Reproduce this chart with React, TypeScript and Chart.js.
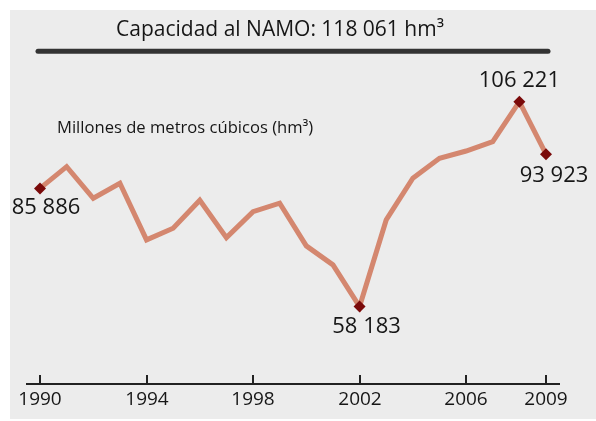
import React, { useEffect, useRef } from "react";
import { Chart, registerables } from "chart.js";

Chart.register(...registerables);

const YEARS = [1990, 1991, 1992, 1993, 1994, 1995, 1996, 1997, 1998, 1999, 2000, 2001, 2002, 2003, 2004, 2005, 2006, 2007, 2008, 2009];
const VOLUMES = [85886, 90985, 83580, 87100, 73810, 76550, 83100, 74350, 80440, 82410, 72400, 67950, 58183, 78500, 88270, 92950, 94660, 96840, 106221, 93923];
const HIGHLIGHT_YEARS = [1990, 2002, 2008, 2009];
const TICK_YEARS = [1990, 1994, 1998, 2002, 2006, 2009];
const CAPACITY = 118061;
const TITLE = "Capacidad al NAMO: 118 061 hm³";
const SUBTITLE = "Millones de metros cúbicos (hm³)";

const FONT = "'Open Sans', 'Noto Sans', sans-serif";

function fmt(v: number): string {
  const s = String(Math.round(v));
  return s.replace(/\B(?=(\d{3})+(?!\d))/g, " ");
}

const decorPlugin = {
  id: "decor",
  beforeDraw(chart: any) {
    const ctx = chart.ctx;
    ctx.save();
    ctx.fillStyle = "#ececec";
    ctx.fillRect(10, 10, chart.width - 10, chart.height - 12);
    ctx.restore();
  },
  afterDatasetsDraw(chart: any) {
    const ctx = chart.ctx;
    const xs = chart.scales.x;
    const ys = chart.scales.y;
    const area = chart.chartArea;
    ctx.save();
    // Title
    ctx.fillStyle = "#161616";
    ctx.textAlign = "center";
    ctx.textBaseline = "middle";
    ctx.font = `21px ${FONT}`;
    ctx.fillText(TITLE, 280, 30);
    // capacity line
    const cy = ys.getPixelForValue(CAPACITY);
    ctx.strokeStyle = "#333333";
    ctx.lineWidth = 5;
    ctx.lineCap = "round";
    ctx.beginPath();
    ctx.moveTo(xs.getPixelForValue(YEARS[0]) - 2, cy);
    ctx.lineTo(xs.getPixelForValue(YEARS[YEARS.length - 1]) + 2, cy);
    ctx.stroke();
    // subtitle
    ctx.textAlign = "left";
    ctx.font = `16.6px ${FONT}`;
    ctx.fillText(SUBTITLE, 57, 128);
    // x axis
    const ay = area.bottom;
    ctx.strokeStyle = "#222222";
    ctx.lineWidth = 2;
    ctx.lineCap = "butt";
    ctx.beginPath();
    ctx.moveTo(26, ay);
    ctx.lineTo(560, ay);
    ctx.stroke();
    ctx.textAlign = "center";
    ctx.font = `19px ${FONT}`;
    TICK_YEARS.forEach((yr) => {
      const px = Math.round(xs.getPixelForValue(yr));
      ctx.beginPath();
      ctx.moveTo(px, ay);
      ctx.lineTo(px, ay - 9);
      ctx.stroke();
      ctx.fillText(String(yr), px, ay + 16);
    });
    // value labels
    ctx.font = `22px ${FONT}`;
    const place: Record<number, [number, number]> = {
      1990: [6, 19],
      2002: [7, 20],
      2008: [0, -21],
      2009: [8, 22],
    };
    HIGHLIGHT_YEARS.forEach((yr) => {
      const i = YEARS.indexOf(yr);
      const px = xs.getPixelForValue(yr);
      const py = ys.getPixelForValue(VOLUMES[i]);
      const [dx, dy] = place[yr] || [0, 20];
      ctx.fillText(fmt(VOLUMES[i]), px + dx, py + dy);
    });
    ctx.restore();
  },
};

export default function App() {
  const ref = useRef<HTMLCanvasElement | null>(null);
  useEffect(() => {
    document.body.style.margin = "0";
    if (!ref.current) return;
    const radii = YEARS.map((y) => (HIGHLIGHT_YEARS.includes(y) ? 6 : 0));
    const chart = new Chart(ref.current, {
      type: "line",
      data: {
        datasets: [
          {
            data: YEARS.map((y, i) => ({ x: y, y: VOLUMES[i] })),
            borderColor: "#d4876f",
            borderWidth: 5,
            tension: 0,
            pointStyle: "rectRot",
            pointRadius: radii,
            pointBackgroundColor: "#7a0a0a",
            pointBorderColor: "#7a0a0a",
            pointBorderWidth: 0,
            clip: false as any,
          },
        ],
      },
      options: {
        responsive: false,
        animation: false,
        devicePixelRatio: 1,
        layout: { padding: { left: 40, right: 50, top: 43, bottom: 37 } },
        plugins: { legend: { display: false }, tooltip: { enabled: false } },
        scales: {
          x: { type: "linear", min: 1990, max: 2009, display: false },
          y: { type: "linear", min: 40000, max: 120000, display: false },
        },
      },
      plugins: [decorPlugin],
    });
    return () => chart.destroy();
  }, []);
  return <canvas ref={ref} width={596} height={421} style={{ display: "block" }} />;
}
